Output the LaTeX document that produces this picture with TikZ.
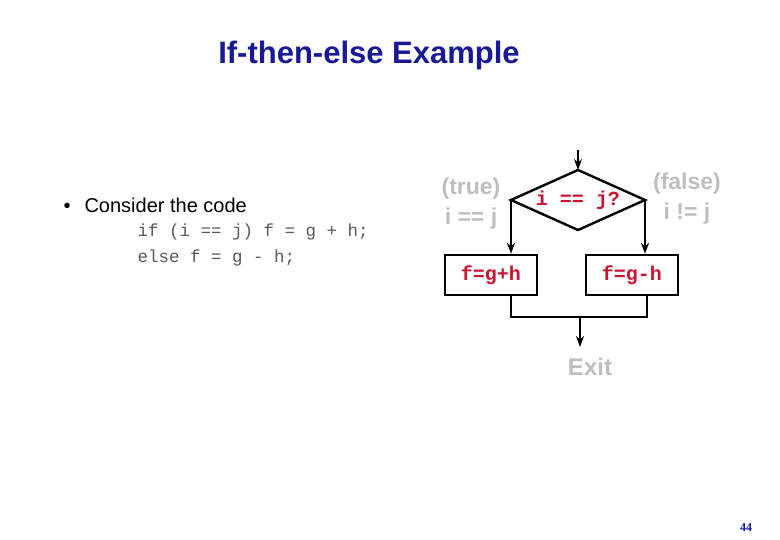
\documentclass[tikz,border=0pt]{standalone}
\usepackage{fontspec}
\setmainfont{Liberation Sans}
\newfontfamily\cmono{Liberation Mono}
\newfontfamily\cserif{Liberation Serif}
\usetikzlibrary{arrows.meta}
\definecolor{titleblue}{RGB}{25,25,150}
\definecolor{codered}{RGB}{200,20,50}
\definecolor{lgray}{RGB}{190,190,190}
\definecolor{cgray}{RGB}{90,90,90}
\begin{document}
\begin{tikzpicture}[x=1pt,y=-1pt,
  flow/.style={line width=2.4pt},
  arr/.style={flow,-{Stealth[length=11pt,width=8pt]}},
  procbox/.style={draw,line width=2.4pt,minimum width=92pt,minimum height=40pt,inner sep=0pt,font=\cmono\bfseries\fontsize{20}{20}\selectfont,text=codered},
  lbl/.style={text=lgray,font=\bfseries\fontsize{23}{30}\selectfont,align=center}]
\useasboundingbox (0,0) rectangle (780,540);
\node[font=\bfseries\fontsize{31}{36}\selectfont,text=titleblue] (title) at (369,55) {If-then-else Example};
\node[anchor=west,font=\fontsize{20}{24}\selectfont] (bul) at (60,205) {\textbullet\hspace{14pt}Consider the code};
\node[anchor=west,font=\cmono\fontsize{17.5}{26}\selectfont,text=cgray,align=left] (code) at (134,245) {if (i == j) f = g + h;\\else f = g - h;};
% diamond
\coordinate (dt) at (578,170);
\coordinate (dl) at (511,200);
\coordinate (dr) at (645,200);
\coordinate (db) at (578,230);
\coordinate (in) at (578,150);
\draw[flow] (dt) -- (dr) -- (db) -- (dl) -- cycle;
\node[font=\cmono\bfseries\fontsize{20}{20}\selectfont,text=codered] (cond) at (578,200) {i == j?};
\draw[arr] (in) -- (dt);
\node[procbox] (b1) at (491,275) {f=g+h};
\node[procbox] (b2) at (632,275) {f=g-h};
\draw[arr] (dl) -- (dl |- b1.north);
\draw[arr] (dr) -- (dr |- b2.north);
\coordinate (j1) at (511,317);
\coordinate (j2) at (647,317);
\coordinate (jm) at (580,317);
\draw[flow] (511,295) -- (j1) -- (j2) -- (647,295);
\node[lbl,font=\bfseries\fontsize{24}{28}\selectfont] (exit) at (590,367) {Exit};
\draw[arr] (jm) -- (580,347);
\node[lbl] (tl) at (471,204) {(true)\\i == j};
\node[lbl] (fl) at (687,199) {(false)\\i != j};
\node[font=\cserif\bfseries\fontsize{12}{14}\selectfont,text=titleblue] (pg) at (746,528) {44};
\end{tikzpicture}
\end{document}
